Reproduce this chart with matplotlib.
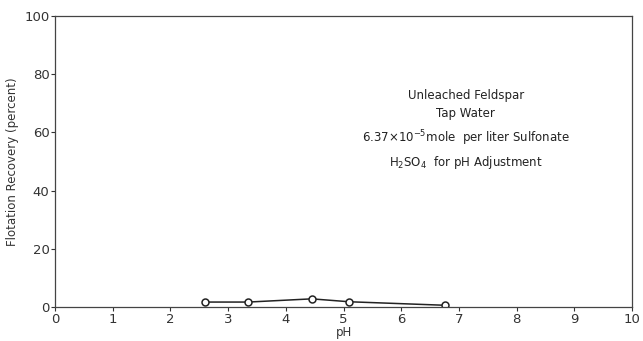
import numpy as np
import matplotlib.pyplot as plt

# Unleached feldspar, tap water
ph = [2.6, 3.35, 4.45, 5.1, 6.75]
recovery = [1.7, 1.7, 2.8, 1.8, 0.6]

xticks = list(range(0, 11))
yticks = [0, 20, 40, 60, 80, 100]

fig = plt.figure(figsize=(6.43, 3.41), dpi=100)
ax = fig.add_axes([0.0855, 0.0997, 0.8975, 0.8533])

ax.plot(ph, recovery, color='#222222', lw=1.1, marker='o', ms=5,
        mfc='white', mec='#222222', mew=1.1)

ax.set_xlim(0, 10)
ax.set_ylim(0, 100)
ax.set_xticks(xticks)
ax.set_yticks(yticks)
ax.tick_params(direction='out', length=3, width=0.8, labelsize=9.5, colors='#333333', pad=1)
for s in ax.spines.values():
    s.set_color('#444444')
    s.set_linewidth(0.9)

ax.set_xlabel('pH', fontsize=8.5, labelpad=0, color='#333333')
ax.set_ylabel('Flotation Recovery (percent)', fontsize=8.5, labelpad=4, color='#333333')

txt = ('Unleached Feldspar\nTap Water\n'
       '6.37$\\times$10$^{-5}$mole  per liter Sulfonate\n'
       'H$_2$SO$_4$  for pH Adjustment')
ax.text(7.12, 60.8, txt, ha='center', va='center', fontsize=8.5,
        linespacing=1.55, color='#222222')

fig.savefig('out.png', dpi=100)
